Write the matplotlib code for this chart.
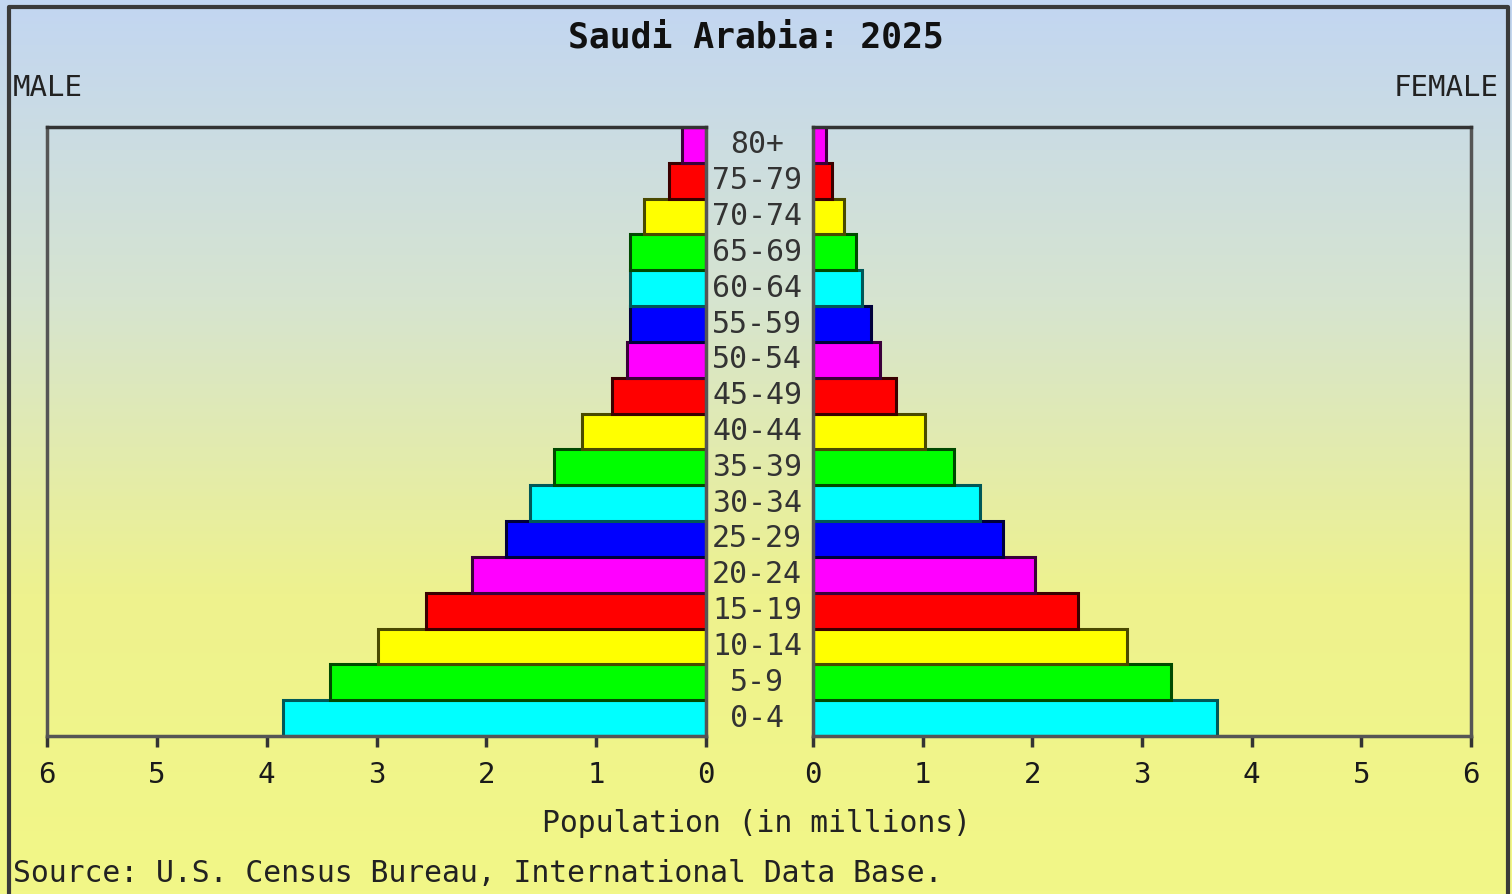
import numpy as np
import matplotlib
matplotlib.use('Agg')
import matplotlib.pyplot as plt
from matplotlib.colors import LinearSegmentedColormap

# data (millions), youngest first
ages = ['0-4', '5-9', '10-14', '15-19', '20-24', '25-29', '30-34', '35-39', '40-44',
        '45-49', '50-54', '55-59', '60-64', '65-69', '70-74', '75-79', '80+']
male = [3.85, 3.42, 2.99, 2.55, 2.13, 1.82, 1.60, 1.38, 1.13,
        0.86, 0.72, 0.69, 0.69, 0.69, 0.56, 0.34, 0.22]
female = [3.68, 3.26, 2.86, 2.42, 2.02, 1.73, 1.52, 1.29, 1.02,
          0.76, 0.61, 0.53, 0.45, 0.39, 0.28, 0.17, 0.12]
ticks = [0, 1, 2, 3, 4, 5, 6]
cycle = ['#00ffff', '#00ff00', '#ffff00', '#ff0000', '#ff00ff', '#0000ff']
colors = [cycle[i % 6] for i in range(len(ages))]
edges = ['#005858', '#004a00', '#4a4a00', '#3a0000', '#3a003a', '#00003a']
ecolors = [edges[i % 6] for i in range(len(ages))]

W, H = 1512, 894
plt.rcParams['font.family'] = ['DejaVu Sans Mono']
fig = plt.figure(figsize=(W / 100, H / 100), dpi=100)

# gradient background
bg = fig.add_axes([0, 0, 1, 1], zorder=-10)
cmap = LinearSegmentedColormap.from_list('bg', ['#c2d6f2', '#d6e4d0', '#eef28e', '#f2f787'])
bg.imshow(np.linspace(0, 1, 256).reshape(-1, 1), aspect='auto', cmap=cmap, extent=[0, 1, 0, 1])
bg.set_xlim(0, 1); bg.set_ylim(0, 1); bg.axis('off')
# outer frame
bg.plot([9 / W, 9 / W, 1508 / W, 1508 / W], [0, 1 - 7 / H, 1 - 7 / H, 0], color='#3a3a3a', lw=3)

def px(x0, y0, x1, y1):
    return [x0 / W, 1 - y1 / H, (x1 - x0) / W, (y1 - y0) / H]

axL = fig.add_axes(px(47, 127, 706, 736))
axR = fig.add_axes(px(813, 127, 1471, 736))
y = np.arange(len(ages))
axL.barh(y, male, height=1.0, color=colors, edgecolor=ecolors, linewidth=2.2)
axR.barh(y, female, height=1.0, color=colors, edgecolor=ecolors, linewidth=2.2)
axL.set_xlim(6, 0)
axR.set_xlim(0, 6)
for ax in (axL, axR):
    ax.set_ylim(-0.5, len(ages) - 0.5)
    ax.patch.set_alpha(0)
    ax.set_yticks([])
    ax.set_xticks(ticks)
    ax.set_xticklabels([str(t) for t in ticks], fontsize=21, color='#1a1a1a')
    ax.tick_params(axis='x', direction='out', length=8, width=2.5, color='#333333', pad=10)
    for s in ax.spines.values():
        s.set_color('#555555'); s.set_linewidth(2.5)
    ax.spines['top'].set_color('#333333')

# age labels
for i, a in enumerate(ages):
    yy = 736 - (i + 0.5) * (736 - 127) / len(ages)
    fig.text(757 / W, 1 - yy / H, a, ha='center', va='center', fontsize=21.5, color='#333333')

fig.text(756 / W, 1 - 37 / H, 'Saudi Arabia: 2025', ha='center', va='center', fontsize=25,
         fontweight='bold', color='#111111')
fig.text(13 / W, 1 - 88 / H, 'MALE', ha='left', va='center', fontsize=21, color='#222222')
fig.text(1499 / W, 1 - 88 / H, 'FEMALE', ha='right', va='center', fontsize=21, color='#222222')
fig.text(756 / W, 1 - 823 / H, 'Population (in millions)', ha='center', va='center', fontsize=21.4,
         color='#222222')
fig.text(13 / W, 1 - 873 / H, 'Source: U.S. Census Bureau, International Data Base.', ha='left',
         va='center', fontsize=21.4, color='#222222')

fig.savefig('out.png', dpi=100)
